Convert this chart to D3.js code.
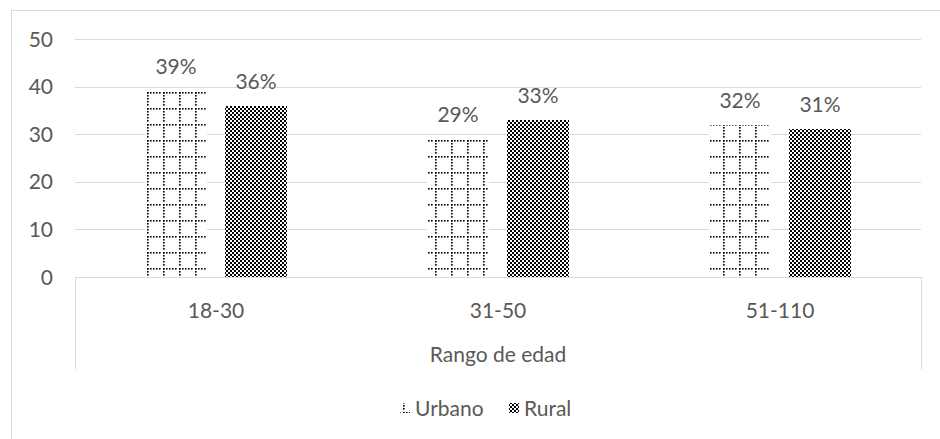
<!DOCTYPE html>
<html>
<head>
<meta charset="utf-8">
<script src="https://cdn.jsdelivr.net/npm/d3@7"></script>
<style>
  body { margin: 0; background: #fff; }
  text { font-family: Lato, "Open Sans", sans-serif; fill: #595959; }
</style>
</head>
<body>
<div id="main"></div>
<script>
const Width = 940, Height = 439;

const categories = ["18-30", "31-50", "51-110"];
const series = ["Urbano", "Rural"];
const urbano = [39, 29, 32];
const rural = [36, 33, 31];
const yTicks = [0, 10, 20, 30, 40, 50];
const axisTitle = "Rango de edad";

const margin = {left: 75, top: 39, right: 19, bottom: 162};

const svg = d3.select("#main")
    .append("svg")
    .attr("width", Width)
    .attr("height", Height);

// patterns
const defs = svg.append("defs");
const dots = defs.append("pattern")
    .attr("id", "pat-urbano")
    .attr("patternUnits", "userSpaceOnUse")
    .attr("width", 16).attr("height", 16)
    .attr("x", 3).attr("y", 12);
dots.append("rect").attr("width", 16).attr("height", 16).attr("fill", "#fff");
for (let i = 0; i < 15; i += 3) {
    dots.append("rect").attr("x", i).attr("y", 0).attr("width", 1.6).attr("height", 1.6).attr("fill", "#000");
    dots.append("rect").attr("x", 0).attr("y", i).attr("width", 1.6).attr("height", 1.6).attr("fill", "#000");
}
const checker = defs.append("pattern")
    .attr("id", "pat-rural")
    .attr("patternUnits", "userSpaceOnUse")
    .attr("width", 4).attr("height", 4);
checker.append("rect").attr("width", 4).attr("height", 4).attr("fill", "#fff");
checker.append("rect").attr("width", 2).attr("height", 2).attr("fill", "#000");
checker.append("rect").attr("x", 2).attr("y", 2).attr("width", 2).attr("height", 2).attr("fill", "#000");

const fills = {Urbano: "url(#pat-urbano)", Rural: "url(#pat-rural)"};

// outer border
svg.append("rect")
    .attr("x", 11.5).attr("y", 10.5)
    .attr("width", Width).attr("height", Height)
    .attr("fill", "none").attr("stroke", "#d9d9d9");

let Xscale = d3.scaleBand().domain(categories).range([margin.left, Width - margin.right]);
let X1 = d3.scaleBand().domain(series).range([70, 212]).paddingInner(0.225);
let Yscale = d3.scaleLinear().domain([0, 50]).range([Height - margin.bottom, margin.top]);

// gridlines
svg.append("g").selectAll("line").data(yTicks).enter().append("line")
    .attr("x1", margin.left).attr("x2", Width - margin.right)
    .attr("y1", d => Math.round(Yscale(d)) + 0.5).attr("y2", d => Math.round(Yscale(d)) + 0.5)
    .attr("stroke", "#d9d9d9");

svg.append("g").selectAll("text").data(yTicks).enter().append("text")
    .attr("x", 53).attr("y", d => Yscale(d))
    .attr("dy", "0.36em")
    .attr("text-anchor", "end")
    .attr("font-size", 21)
    .text(d => d);

// outer dividers of the category axis
const edges = [margin.left, Width - margin.right];
svg.append("g").selectAll("line").data(edges).enter().append("line")
    .attr("x1", d => Math.round(d) + 0.5).attr("x2", d => Math.round(d) + 0.5)
    .attr("y1", Yscale(0)).attr("y2", Yscale(0) + 92)
    .attr("stroke", "#d9d9d9");

svg.append("g").selectAll("text").data(categories).enter().append("text")
    .attr("x", d => Xscale(d) + Xscale.bandwidth() / 2)
    .attr("y", Yscale(0) + 33)
    .attr("dy", "0.36em")
    .attr("text-anchor", "middle")
    .attr("font-size", 21)
    .text(d => d);

svg.append("text")
    .attr("x", margin.left + (Width - margin.right - margin.left) / 2)
    .attr("y", 354).attr("dy", "0.36em")
    .attr("text-anchor", "middle")
    .attr("font-size", 21)
    .text(axisTitle);

// bars
const data = [];
categories.forEach((c, i) => {
    data.push({cat: c, s: "Urbano", v: urbano[i]});
    data.push({cat: c, s: "Rural", v: rural[i]});
});

svg.append("g").attr("shape-rendering", "crispEdges")
    .selectAll("rect").data(data).enter().append("rect")
    .attr("x", d => Math.round(Xscale(d.cat) + X1(d.s)))
    .attr("y", d => Math.round(Yscale(d.v)))
    .attr("width", Math.round(X1.bandwidth()))
    .attr("height", d => Math.round(Yscale(0)) - Math.round(Yscale(d.v)))
    .attr("fill", d => fills[d.s]);

svg.append("g").selectAll("text").data(data).enter().append("text")
    .attr("x", d => Xscale(d.cat) + X1(d.s) + X1.bandwidth() / 2)
    .attr("y", d => Yscale(d.v) - 17)
    .attr("text-anchor", "middle")
    .attr("font-size", 21)
    .text(d => d.v + "%");

// legend
const legend = svg.append("g");
const legX = [400, 509];
series.forEach((s, i) => {
    legend.append("rect")
        .attr("x", legX[i]).attr("y", 403)
        .attr("width", 10).attr("height", 10)
        .attr("fill", fills[s]);
    legend.append("text")
        .attr("x", legX[i] + 15).attr("y", 408).attr("dy", "0.36em")
        .attr("font-size", 21)
        .text(s);
});
</script>
</body>
</html>
